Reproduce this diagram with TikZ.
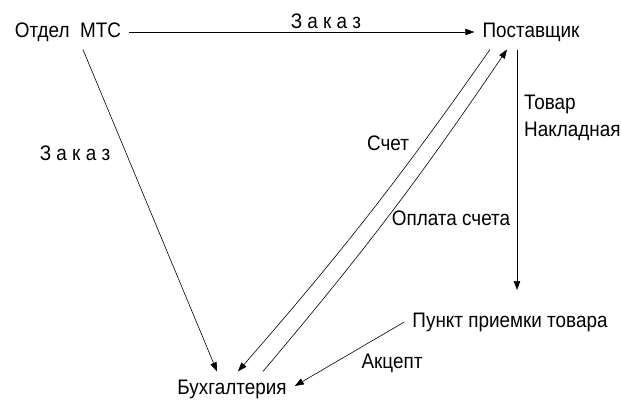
\documentclass[tikz,border=0pt]{standalone}
\usepackage{fontspec}
\setmainfont[FakeStretch=0.9]{Liberation Sans}
\usetikzlibrary{arrows.meta}
\begin{document}
\begin{tikzpicture}[x=1pt, y=-1pt,
  font=\fontsize{21}{24}\selectfont,
  unit/.style={inner sep=8pt},
  lbl/.style={inner sep=0pt},
  arrow/.style={-{Triangle[length=9pt,width=6.5pt]}, line width=0.6pt}
]
\useasboundingbox (0,0) rectangle (622,407);
\node[unit] (otdel) at (68,32) {Отдел\ \ МТС};
\node[unit] (post) at (531,32) {Поставщик};
\node[unit] (punkt) at (510,322) {Пункт приемки товара};
\node[unit] (buh) at (232,389) {Бухгалтерия};
\coordinate (recv) at (517,290);

\draw[arrow] (otdel) -- node[pos=0.57, above, inner sep=3pt] {З а к а з} (post);
\draw[arrow] ([xshift=15pt]otdel.south) -- ([xshift=-15pt]buh.north);
\node[lbl] (zakaz) at (75,153) {З а к а з};
\draw[arrow] ([xshift=-14pt]post.south) -- (recv);
\node[lbl, align=left, anchor=north west] (tovar) at (524,95) {Товар\\[3pt]Накладная};
\draw[arrow] ([xshift=-41pt]post.south) to[bend left=3] ([xshift=6pt]buh.north);
\draw[arrow] ([xshift=31pt]buh.north) to[bend right=3] ([xshift=-24pt]post.south);
\node[lbl] (schet) at (388,143) {Счет};
\node[lbl] (oplata) at (451,218) {Оплата счета};
\draw[arrow] (punkt.west) -- ([yshift=3pt]buh.east);
\node[lbl] (akcept) at (392,363) {Акцепт};
\end{tikzpicture}
\end{document}
